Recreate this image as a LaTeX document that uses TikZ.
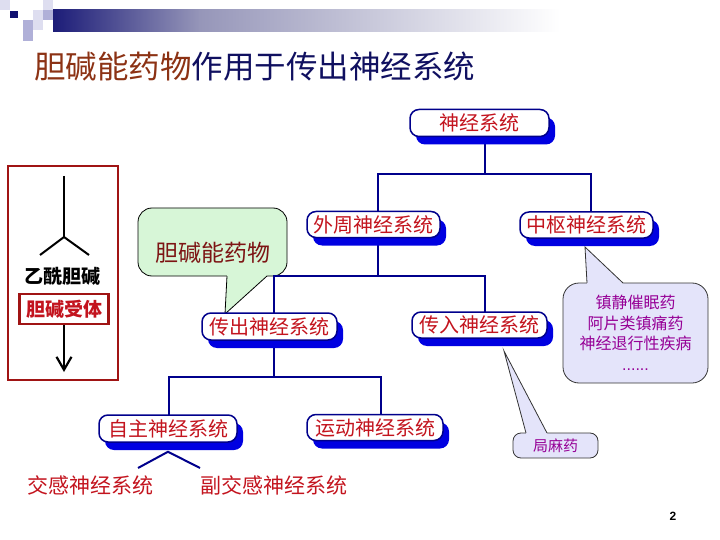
\documentclass[tikz,border=0pt]{standalone}
\usepackage{fontspec}
\setmainfont{Noto Sans CJK SC}
\newfontfamily\latinfont{Liberation Sans}
\usetikzlibrary{shadows,backgrounds,calc,arrows.meta}
\definecolor{navy}{RGB}{0,0,140}
\definecolor{shadowblue}{RGB}{0,0,225}
\definecolor{boxred}{RGB}{195,20,30}
\definecolor{titlebrown}{RGB}{140,50,20}
\definecolor{titlenavy}{RGB}{16,16,96}
\definecolor{framered}{RGB}{160,20,20}
\definecolor{callgreen}{RGB}{215,246,215}
\definecolor{calltext}{RGB}{125,20,20}
\definecolor{lavender}{RGB}{228,228,250}
\definecolor{purpletext}{RGB}{150,0,150}
\definecolor{barnavy}{RGB}{28,28,120}
\definecolor{barmid}{RGB}{150,150,185}
\definecolor{sqlight}{RGB}{222,222,240}
\definecolor{sqmid}{RGB}{176,176,216}
\definecolor{sqdark}{RGB}{16,16,112}
\begin{document}
\begin{tikzpicture}[x=1pt,y=-1pt,
  sysbox/.style={draw=navy, line width=1.5pt, fill=white, rounded corners=9pt,
    inner sep=0pt, text=boxred, font=\fontsize{20}{24}\selectfont,
    drop shadow={shadow xshift=6pt, shadow yshift=-8pt, fill=shadowblue, opacity=1}},
  conn/.style={draw=navy, line width=2pt},
  callg/.style={draw=black, line width=0.8pt, fill=callgreen, rounded corners=14pt,
    inner sep=0pt},
  calll/.style={draw=black!80, line width=0.8pt, fill=lavender, rounded corners=12pt,
    inner sep=0pt, text=purpletext},
  plaintext/.style={inner sep=0pt, text=boxred, font=\fontsize{21}{24}\selectfont},
  blackline/.style={draw=black, line width=2pt}
]
\useasboundingbox (0,0) rectangle (720,540);

% header decoration
\shade[left color=barnavy, right color=barmid] (53,10) rectangle (200,32);
\shade[left color=barmid, right color=white] (199.5,10) rectangle (560,32);
\fill[sqlight] (0,0) rectangle (10,10);
\fill[sqlight] (43,0) rectangle (53,10);
\fill[sqdark] (10,11) rectangle (18,18);
\fill[sqlight] (33,10) rectangle (43,20);
\fill[sqmid] (43,10) rectangle (53,20);
\fill[sqmid] (23,20) rectangle (33,30);
\fill[sqlight] (33,20) rectangle (43,30);
\fill[sqmid] (23,30) rectangle (33,41);

% title
\node[anchor=west, inner sep=0pt, font=\fontsize{31.5}{35}\selectfont] (title) at (34,67)
  {\textcolor{titlebrown}{胆碱能药物}\textcolor{titlenavy}{作用于传出神经系统}};

% system boxes
\node[sysbox, minimum width=139pt, minimum height=27pt] (ns) at (479.5,123) {神经系统};
\node[sysbox, minimum width=133pt, minimum height=26pt] (wz) at (373.5,224.5) {外周神经系统};
\node[sysbox, minimum width=133pt, minimum height=26pt] (zs) at (586.5,225) {中枢神经系统};
\node[sysbox, minimum width=135pt, minimum height=27pt] (cc) at (269.5,326.5) {传出神经系统};
\node[sysbox, minimum width=135pt, minimum height=26pt] (cr) at (479.5,325) {传入神经系统};
\node[sysbox, minimum width=138pt, minimum height=27pt] (zz) at (168,428.5) {自主神经系统};
\node[sysbox, minimum width=136pt, minimum height=26pt] (yd) at (375,427.5) {运动神经系统};

% plain texts
\node[plaintext] (jg) at (90.5,485) {交感神经系统};
\node[plaintext] (fjg) at (273.5,485) {副交感神经系统};

% left frame
\draw[draw=framered, line width=2.5pt] (8,166) rectangle (118,380);
\coordinate (top) at (64,176);
\coordinate (fork) at (64,237);
\coordinate (lb) at (40,255);
\coordinate (rb) at (89,255);
\draw[blackline] (top) -- (fork);
\draw[blackline] (lb) -- (fork) -- (rb);
\node[inner sep=0pt, font=\fontsize{19}{22}\selectfont\bfseries] (ach) at (62,276) {乙酰胆碱};
\node[draw=framered, line width=2.5pt, fill=white, inner sep=0pt, minimum width=89pt,
  minimum height=30pt, text=boxred, font=\fontsize{19}{22}\selectfont\bfseries] (rec) at (64,309) {胆碱受体};
\coordinate (arrend) at (64,372);
\draw[blackline, -{Straight Barb[length=13pt,width=15pt,line width=2.2pt]}] (rec.south) -- (arrend);

% page number
\node[inner sep=0pt, font=\latinfont\bfseries\fontsize{12}{14}\selectfont] (pg) at (673,516) {2};

\begin{scope}[on background layer]
  % green callout
  \node[callg, minimum width=149pt, minimum height=68pt] (cg) at (212.5,242) {};
  \node[inner sep=0pt, text=calltext, font=\fontsize{23}{26}\selectfont] (cgt) at (213,253) {胆碱能药物};
  \fill[callgreen] (227,276) -- (225,314) -- (267,276) -- (267,270) -- (227,270) -- cycle;
  \draw[black, line width=0.8pt] (227,276) -- (225,314) -- (267,276);
  % right callout
  \node[calll, minimum width=145pt, minimum height=100pt, rounded corners=16pt,
    align=center, font=\fontsize{16}{20.5}\selectfont] (cl) at (635.5,333)
    {镇静催眠药\\阿片类镇痛药\\神经退行性疾病\\{\latinfont ......}};
  \fill[lavender] (587,283) -- (585,247) -- (623,283) -- (623,290) -- (587,290) -- cycle;
  \draw[black!80, line width=0.8pt] (587,283) -- (585,247) -- (623,283);
  % local anesthetic callout
  \node[calll, minimum width=85pt, minimum height=25pt, rounded corners=8pt,
    font=\fontsize{15}{18}\selectfont] (jm) at (555.5,445.5) {局麻药};
  \fill[lavender] (526,433) -- (504,351) -- (547,433) -- (547,438) -- (526,438) -- cycle;
  \draw[black!80, line width=0.8pt] (526,433) -- (504,351) -- (547,433);

  % connectors
  \coordinate (nsc) at ($(ns.center)+(5.5,0)$);
  \coordinate (wzc) at ($(wz.center)+(4.5,0)$);
  \coordinate (zsc) at ($(zs.center)+(4.5,0)$);
  \coordinate (ccc) at ($(cc.center)+(4.5,0)$);
  \coordinate (crc) at ($(cr.center)+(5.5,0)$);
  \coordinate (zzc) at ($(zz.center)+(1,0)$);
  \coordinate (ydc) at ($(yd.center)+(6,0)$);
  \coordinate (b1) at (485,174);
  \coordinate (b2) at (378,276);
  \coordinate (b3) at (274,377);
  \draw[conn] (nsc) -- (b1);
  \draw[conn] (wzc) |- (b1) -| (zsc);
  \draw[conn] (wzc) -- (b2);
  \draw[conn] (ccc) |- (b2) -| (crc);
  \draw[conn] (ccc) -- (b3);
  \draw[conn] (zzc) |- (b3) -| (ydc);
  \coordinate (fk) at ($(zz.south)+(0,9)$);
  \coordinate (fl) at (138,468);
  \coordinate (fr) at (200,468);
  \draw[conn] (fl) -- (fk) -- (fr);
\end{scope}
\end{tikzpicture}
\end{document}
